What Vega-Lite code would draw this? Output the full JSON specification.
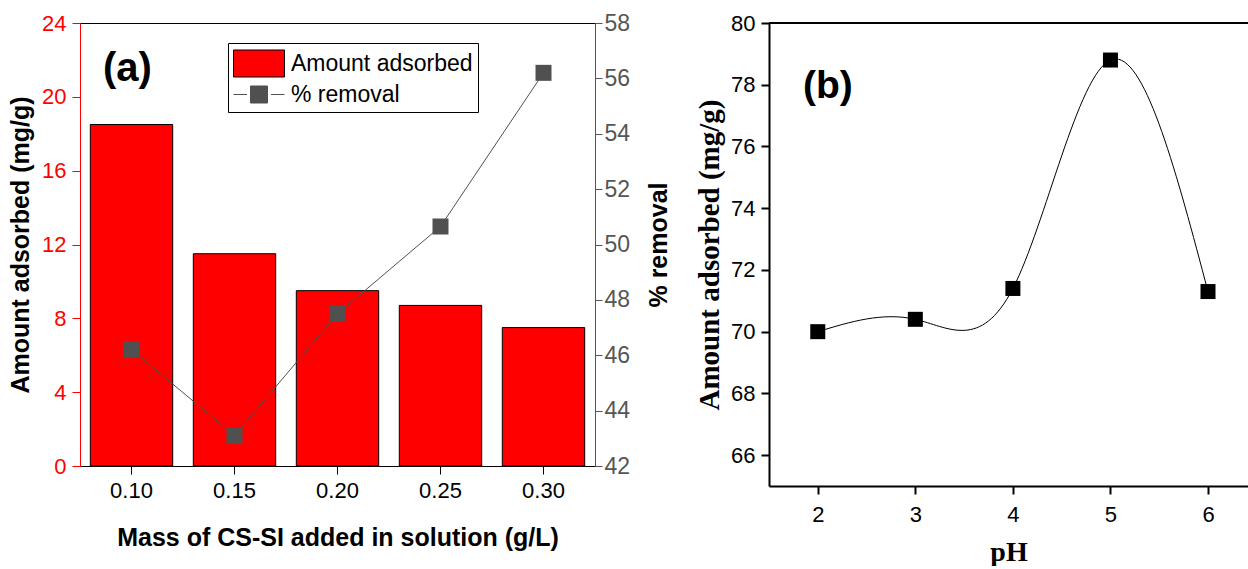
{
  "$schema": "https://vega.github.io/schema/vega-lite/v6.json",
  "background": "white",
  "padding": {"left": 8, "top": 11, "right": 0, "bottom": 0},
  "spacing": 22,
  "datasets": {
    "a": [
      {"mass": "0.10", "amount": 18.5, "removal": 46.2},
      {"mass": "0.15", "amount": 11.5, "removal": 43.1},
      {"mass": "0.20", "amount": 9.5, "removal": 47.5},
      {"mass": "0.25", "amount": 8.7, "removal": 50.65},
      {"mass": "0.30", "amount": 7.5, "removal": 56.2}
    ],
    "b": [
      {"ph": 2, "amount": 70.0},
      {"ph": 3, "amount": 70.4},
      {"ph": 4, "amount": 71.4},
      {"ph": 5, "amount": 78.8},
      {"ph": 6, "amount": 71.3}
    ]
  },
  "config": {
    "font": "Liberation Sans",
    "axis": {"grid": false, "labelFont": "Liberation Sans", "titleFont": "Liberation Sans"}
  },
  "hconcat": [
    {
      "width": 515,
      "height": 443,
      "view": {"stroke": "black", "strokeWidth": 1},
      "title": {"text": "(a)", "anchor": "start", "frame": "group", "fontSize": 40, "fontWeight": "bold", "font": "Liberation Sans", "color": "black", "offset": -109, "dx": 23, "baseline": "alphabetic"},
      "data": {"name": "a"},
      "layer": [
        {
          "mark": {"type": "bar", "fill": "#ff0000", "stroke": "black", "strokeWidth": 1},
          "encoding": {
            "x": {"field": "mass", "type": "ordinal", "scale": {"paddingInner": 0.2, "paddingOuter": 0.1},
              "axis": {"labelAngle": 0, "domainColor": "black", "tickColor": "black", "tickSize": 8, "labelFontSize": 22, "labelColor": "black", "labelPadding": 6, "title": "Mass of CS-SI added in solution (g/L)", "titleFontSize": 25, "titleFontWeight": "bold", "titleColor": "black", "titlePadding": 24}},
            "y": {"field": "amount", "type": "quantitative", "scale": {"domain": [0, 24], "nice": false},
              "axis": {"values": [0, 4, 8, 12, 16, 20, 24], "domainColor": "#ff0000", "tickColor": "#ff0000", "labelColor": "#ff0000", "tickSize": 8, "labelPadding": 6, "labelFontSize": 22, "title": "Amount adsorbed (mg/g)", "titleFontSize": 25, "titleFontWeight": "bold", "titleColor": "black", "titlePadding": 8}}
          }
        },
        {
          "layer": [
            {
              "mark": {"type": "line", "color": "#505050", "strokeWidth": 1},
              "encoding": {
                "x": {"field": "mass", "type": "ordinal"},
                "y": {"field": "removal", "type": "quantitative", "scale": {"domain": [42, 58], "nice": false, "zero": false},
                  "axis": {"orient": "right", "values": [42, 44, 46, 48, 50, 52, 54, 56, 58], "domainColor": "#555555", "tickColor": "#555555", "labelColor": "#555555", "tickSize": 7, "labelPadding": 2, "labelFontSize": 23, "title": "% removal", "titleAngle": 270, "titleBaseline": "top", "titleFontSize": 25, "titleFontWeight": "bold", "titleColor": "black", "titlePadding": 17}}
              }
            },
            {
              "mark": {"type": "point", "shape": "square", "filled": true, "size": 256, "color": "#505050", "opacity": 1},
              "encoding": {
                "x": {"field": "mass", "type": "ordinal"},
                "y": {"field": "removal", "type": "quantitative"}
              }
            },
            {
              "data": {"values": [{"series": "Amount adsorbed"}, {"series": "% removal"}]},
              "mark": {"type": "point", "filled": true, "opacity": 0},
              "encoding": {
                "fill": {"field": "series", "type": "nominal", "scale": {"domain": ["Amount adsorbed", "% removal"], "range": ["#ff0000", "#505050"]},
                  "legend": {"orient": "none", "legendX": 148, "legendY": 20, "title": null, "padding": 5, "strokeColor": "black", "fillColor": "white", "labelFont": "Liberation Sans", "labelFontSize": 23, "labelColor": "black", "labelOffset": 27, "labelLimit": 400, "symbolSize": 900, "symbolStrokeWidth": 1, "rowPadding": -2, "symbolOpacity": 1}},
                "stroke": {"field": "series", "type": "nominal", "scale": {"domain": ["Amount adsorbed", "% removal"], "range": ["black", "#505050"]},
                  "legend": {"orient": "none", "legendX": 148, "legendY": 20, "title": null, "padding": 5, "strokeColor": "black", "fillColor": "white", "labelFont": "Liberation Sans", "labelFontSize": 23, "labelColor": "black", "labelOffset": 27, "labelLimit": 400, "symbolSize": 900, "symbolStrokeWidth": 1, "rowPadding": -2, "symbolOpacity": 1}},
                "shape": {"field": "series", "type": "nominal", "scale": {"domain": ["Amount adsorbed", "% removal"], "range": ["M-1,-0.9H2.4V0.9H-1Z", "M-1,0H-0.1M1.5,0H2.4M0.133,-0.567H1.267V0.567H0.133Z"]},
                  "legend": {"orient": "none", "legendX": 148, "legendY": 20, "title": null, "padding": 5, "strokeColor": "black", "fillColor": "white", "labelFont": "Liberation Sans", "labelFontSize": 23, "labelColor": "black", "labelOffset": 27, "labelLimit": 400, "symbolSize": 900, "symbolStrokeWidth": 1, "rowPadding": -2, "symbolOpacity": 1}}
              }
            }
          ]
        }
      ],
      "resolve": {"scale": {"y": "independent"}}
    },
    {
      "width": 479,
      "height": 463,
      "view": {"stroke": null},
      "title": {"text": "(b)", "anchor": "start", "frame": "group", "fontSize": 39, "fontWeight": "bold", "font": "Liberation Sans", "color": "black", "offset": -125, "dx": 34, "baseline": "alphabetic"},
      "data": {"name": "b"},
      "encoding": {
        "x": {"field": "ph", "type": "quantitative", "scale": {"domain": [1.5, 6.41], "nice": false, "zero": false},
          "axis": {"values": [2, 3, 4, 5, 6], "format": "d", "domainColor": "black", "domainWidth": 2, "tickColor": "black", "tickWidth": 2, "tickSize": 8, "labelFontSize": 22, "labelColor": "black", "labelPadding": 10, "title": "pH", "titleFont": "Liberation Serif", "titleFontSize": 28, "titleFontWeight": "bold", "titleColor": "black", "titlePadding": 13}},
        "y": {"field": "amount", "type": "quantitative", "scale": {"domain": [65, 80], "nice": false, "zero": false},
          "axis": {"values": [66, 68, 70, 72, 74, 76, 78, 80], "domainColor": "black", "domainWidth": 2, "tickColor": "black", "tickWidth": 2, "tickSize": 8, "labelFontSize": 22, "labelColor": "black", "labelPadding": 6, "title": "Amount adsorbed (mg/g)", "titleFont": "Liberation Serif", "titleFontSize": 29, "titleFontWeight": "bold", "titleColor": "black", "titlePadding": 6}}
      },
      "layer": [
        {
          "mark": {"type": "rule", "color": "black", "strokeWidth": 2},
          "encoding": {"x": null, "y": {"datum": 80}}
        },
        {
          "mark": {"type": "line", "interpolate": "natural", "color": "black", "strokeWidth": 1}
        },
        {
          "mark": {"type": "point", "shape": "square", "filled": true, "size": 225, "color": "black", "opacity": 1}
        }
      ]
    }
  ]
}
